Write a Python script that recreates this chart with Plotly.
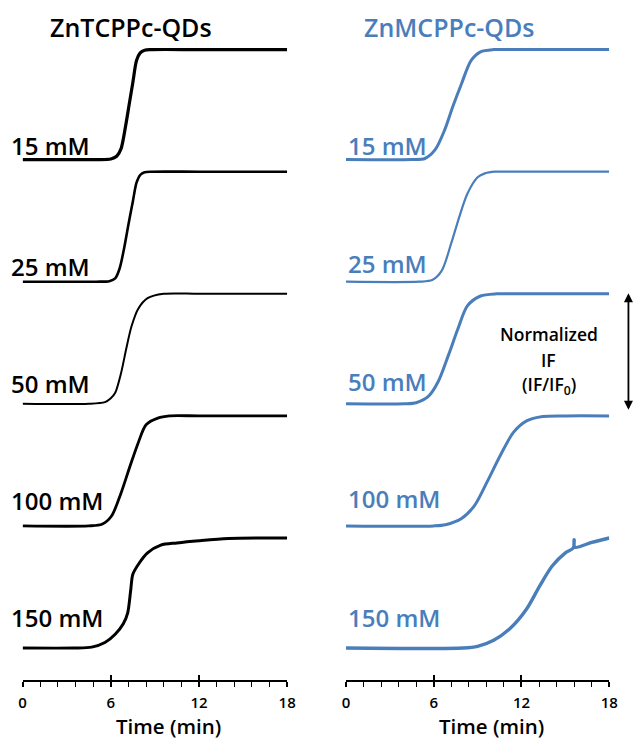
import plotly.graph_objects as go

# ---------------- data (normalized IF vs time) ----------------
conc_labels = ["15 mM", "25 mM", "50 mM", "100 mM", "150 mM"]

# ZnTCPPc-QDs (black)
t_tc15 = [0, 5.0, 6.0, 6.4, 6.7, 7.0, 7.25, 7.5, 7.75, 8.0, 8.3, 8.8, 12, 18]
v_tc15 = [0, 0, 0.005, 0.03, 0.1, 0.3, 0.5, 0.7, 0.9, 0.97, 0.995, 1.0, 1.0, 1.0]
t_tc25 = [0, 5.0, 5.9, 6.3, 6.6, 6.9, 7.2, 7.5, 7.75, 8.0, 8.3, 8.8, 12, 18]
v_tc25 = [0, 0, 0.005, 0.03, 0.12, 0.3, 0.52, 0.73, 0.9, 0.97, 0.995, 1.0, 1.0, 1.0]
t_tc50 = [0, 4.5, 5.6, 6.0, 6.3, 6.7, 7.05, 7.4, 7.85, 8.5, 9.6, 12, 18]
v_tc50 = [0, 0, 0.015, 0.05, 0.1, 0.28, 0.5, 0.7, 0.86, 0.96, 1.0, 1.0, 1.0]
t_tc100 = [0, 4.5, 5.4, 6.05, 6.7, 7.3, 7.85, 8.4, 9.2, 10, 12, 18]
v_tc100 = [0, 0, 0.015, 0.09, 0.3, 0.54, 0.75, 0.92, 0.98, 1.0, 1.0, 1.0]
t_tc150 = [0, 3.5, 4.7, 5.6, 6.3, 6.85, 7.15, 7.35, 7.5, 7.95, 8.5, 9.4, 10.5, 12.0, 14.0, 18]
v_tc150 = [0, 0, 0.008, 0.05, 0.125, 0.22, 0.32, 0.52, 0.67, 0.775, 0.865, 0.935, 0.955, 0.975, 0.995, 1.0]

# ZnMCPPc-QDs (blue)
t_mc15 = [0, 4.5, 5.4, 6.1, 6.75, 7.3, 7.9, 8.55, 9.2, 10.1, 12, 18]
v_mc15 = [0, 0, 0.01, 0.09, 0.27, 0.48, 0.69, 0.9, 0.98, 1.0, 1.0, 1.0]
t_mc25 = [0, 5.0, 5.9, 6.55, 7.2, 7.75, 8.3, 9.0, 9.5, 10.2, 12, 18]
v_mc25 = [0, 0, 0.015, 0.1, 0.35, 0.59, 0.8, 0.95, 0.985, 1.0, 1.0, 1.0]
t_mc50 = [0, 4.0, 4.8, 5.65, 6.3, 7.0, 7.65, 8.3, 9.2, 10.3, 12, 18]
v_mc50 = [0, 0, 0.01, 0.07, 0.2, 0.44, 0.68, 0.89, 0.98, 1.0, 1.0, 1.0]
t_mc100 = [0, 6.0, 6.8, 7.9, 8.8, 9.65, 10.55, 11.45, 12.35, 13.45, 15, 18]
v_mc100 = [0, 0, 0.01, 0.067, 0.187, 0.4, 0.64, 0.85, 0.955, 0.995, 1.0, 1.0]
t_mc150 = [0, 8.0, 9.0, 10.1, 11.2, 12.35, 13.25, 14.1, 15.0, 15.55, 15.6, 15.65, 16.8, 18]
v_mc150 = [0, 0, 0.015, 0.07, 0.175, 0.355, 0.565, 0.745, 0.865, 0.91, 0.985, 0.915, 0.96, 1.0]

x_ticks = [0, 6, 12, 18]
x_tick_labels = ["0", "6", "12", "18"]

# ---------------- styling ----------------
BLUE = "#4a7ebb"
FONT = "Open Sans"
STEP = 1.11            # vertical stacking step (in normalized units)
W, H = 644, 741
AX_Y_PX = 680          # pixel row of the x axes
BASE150_PX = 648       # pixel row of the lowest baseline
PX_PER_UNIT = 110.0

y_lo = (BASE150_PX - AX_Y_PX) / PX_PER_UNIT
y_hi = BASE150_PX / PX_PER_UNIT

left_series = [(t_tc15, v_tc15, 3.2), (t_tc25, v_tc25, 2.6), (t_tc50, v_tc50, 2.0),
               (t_tc100, v_tc100, 2.8), (t_tc150, v_tc150, 3.0)]
right_series = [(t_mc15, v_mc15, 3.0), (t_mc25, v_mc25, 2.2), (t_mc50, v_mc50, 3.0),
                (t_mc100, v_mc100, 3.0), (t_mc150, v_mc150, 3.4)]

fig = go.Figure()
n = len(conc_labels)
for i, (t, v, lw) in enumerate(left_series):
    off = (n - 1 - i) * STEP
    fig.add_trace(go.Scatter(x=t, y=[val + off for val in v], mode="lines",
                             line=dict(color="black", width=lw, shape="spline", smoothing=0.8),
                             xaxis="x", yaxis="y", showlegend=False, hoverinfo="skip"))
for i, (t, v, lw) in enumerate(right_series):
    off = (n - 1 - i) * STEP
    fig.add_trace(go.Scatter(x=t, y=[val + off for val in v], mode="lines",
                             line=dict(color=BLUE, width=lw, shape="spline", smoothing=0.8),
                             xaxis="x2", yaxis="y", showlegend=False, hoverinfo="skip"))

tickfont = dict(family=FONT, size=15, color="black", weight=600)
common_x = dict(range=[0, 18], tickvals=x_ticks, ticktext=x_tick_labels, ticks="outside",
                ticklen=5, tickwidth=1.5, tickcolor="black", showline=True, linecolor="black",
                linewidth=1.5, showgrid=False, zeroline=False, anchor="y", tickfont=tickfont,
                ticklabelstandoff=3,
                minor=dict(ticks="outside", tick0=0, dtick=1.2, ticklen=5, tickwidth=1.2,
                           tickcolor="black", showgrid=False))
dom_l = [19 / W, 289 / W]
dom_r = [349 / W, 617.7 / W]
cross = dict(range=[0, 18], tickvals=x_ticks, ticks="inside", ticklen=5, tickwidth=1.5,
             tickcolor="black", showticklabels=False, showline=False, showgrid=False,
             zeroline=False, anchor="y", side="bottom")

fig.update_layout(
    width=W, height=H, margin=dict(l=0, r=0, t=0, b=0),
    paper_bgcolor="white", plot_bgcolor="white",
    xaxis=dict(domain=dom_l, **common_x),
    xaxis2=dict(domain=dom_r, **common_x),
    xaxis3=dict(overlaying="x", **cross),
    xaxis4=dict(overlaying="x2", **cross),
    yaxis=dict(domain=[(H - AX_Y_PX) / H, 1], range=[y_lo, y_hi], visible=False),
)

# invisible helper traces so the overlay (tick-crossing) axes are drawn
fig.add_trace(go.Scatter(x=[0, 18], y=[y_lo, y_lo], xaxis="x3", yaxis="y", mode="lines",
                         line=dict(width=0), showlegend=False, hoverinfo="skip"))
fig.add_trace(go.Scatter(x=[0, 18], y=[y_lo, y_lo], xaxis="x4", yaxis="y", mode="lines",
                         line=dict(width=0), showlegend=False, hoverinfo="skip"))

lab_font_k = dict(family=FONT, size=24, color="black", weight=600)
lab_font_b = dict(family=FONT, size=24, color=BLUE, weight=600)
lift_l = [0.124, 0.134, 0.189, 0.235, 0.273]
lift_r = [0.124, 0.161, 0.203, 0.245, 0.273]


def y_to_paper(yv):
    d0 = (H - AX_Y_PX) / H
    return d0 + (yv - y_lo) / (y_hi - y_lo) * (1 - d0)


ann = []
for i, lab in enumerate(conc_labels):
    off = (n - 1 - i) * STEP
    ann.append(dict(xref="paper", yref="paper", x=5 / W, y=y_to_paper(off + lift_l[i]), text=lab,
                    showarrow=False, xanchor="left", yanchor="middle", font=lab_font_k))
    ann.append(dict(xref="x2", yref="y", x=0.0, y=off + lift_r[i], text=lab, showarrow=False,
                    xanchor="left", yanchor="middle", font=lab_font_b))

# titles
ann.append(dict(xref="paper", yref="paper", x=129.5 / W, y=1 - 27 / H, text="ZnTCPPc-QDs",
                showarrow=False, xanchor="center", yanchor="middle",
                font=dict(family=FONT, size=25, color="black", weight=600)))
ann.append(dict(xref="paper", yref="paper", x=455 / W, y=1 - 27 / H, text="ZnMCPPc-QDs",
                showarrow=False, xanchor="center", yanchor="middle",
                font=dict(family=FONT, size=25, color=BLUE, weight=600)))
# axis titles
for cx in (168, 498):
    ann.append(dict(xref="paper", yref="paper", x=cx / W, y=1 - 726 / H, text="Time (min)",
                    showarrow=False, xanchor="center", yanchor="middle", borderpad=0,
                    font=dict(family=FONT, size=20.5, color="black", weight=600)))

# normalized IF note
note_font = dict(family=FONT, size=17.5, color="black", weight=600)
for txt, py in (("Normalized", 334), ("IF", 360), ("(IF/IF<sub>0</sub>)", 385)):
    ann.append(dict(xref="paper", yref="paper", x=556 / W, y=1 - py / H, text=txt,
                    showarrow=False, xanchor="center", yanchor="middle", font=note_font))

# double-headed arrow spanning one normalized unit (the 50 mM curve)
top_px = BASE150_PX - (2 * STEP + 1.0) * PX_PER_UNIT - 0.5
bot_px = BASE150_PX - 2 * STEP * PX_PER_UNIT + 7.5
ann.append(dict(xref="paper", yref="paper", x=637.3 / W, y=1 - top_px / H,
                ax=0, ay=bot_px - top_px, text="", showarrow=True, arrowhead=2,
                arrowside="end+start", arrowsize=1, arrowwidth=1.8, arrowcolor="black"))

fig.update_layout(annotations=ann)
fig.write_html("out.html", config={"displayModeBar": False},
               post_script="document.body.style.margin='0';document.body.style.overflow='hidden';")
